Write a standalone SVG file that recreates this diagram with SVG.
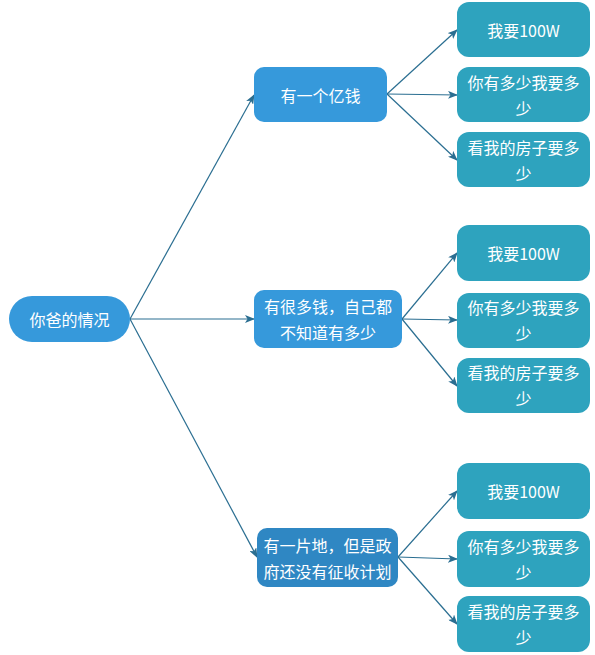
<svg xmlns="http://www.w3.org/2000/svg" width="595" height="655" viewBox="0 0 595 655">
<defs>
<marker id="arr" markerWidth="10" markerHeight="8" refX="9" refY="4" orient="auto" markerUnits="userSpaceOnUse">
<path d="M0,0 L10,4 L0,8 L2.5,4 Z" fill="#2A6E91"/>
</marker>
</defs>
<style>
.root{fill:#3699DB}
.mid{fill:#3699DB}
.midc{fill:#2F87C3}
.leaf{fill:#2EA3BE}
text{font-family:"Noto Sans CJK SC","Liberation Sans",sans-serif;font-size:16px;fill:#FFFFFF;text-anchor:middle;dominant-baseline:central}
.edge{stroke:#2A6E91;stroke-width:1.2;fill:none;marker-end:url(#arr)}
</style>
<rect width="595" height="655" fill="#FFFFFF"/>
<g id="connectors">
<line class="edge" x1="130" y1="319" x2="254" y2="95"/>
<line class="edge" x1="130" y1="319" x2="254" y2="319"/>
<line class="edge" x1="130" y1="319" x2="257" y2="557"/>
<line class="edge" x1="387" y1="94" x2="457" y2="30"/>
<line class="edge" x1="387" y1="94" x2="457" y2="95"/>
<line class="edge" x1="387" y1="94" x2="457" y2="160"/>
<line class="edge" x1="402" y1="319" x2="457" y2="253"/>
<line class="edge" x1="402" y1="319" x2="457" y2="320"/>
<line class="edge" x1="402" y1="319" x2="457" y2="386"/>
<line class="edge" x1="398" y1="557" x2="457" y2="491"/>
<line class="edge" x1="398" y1="557" x2="457" y2="559"/>
<line class="edge" x1="398" y1="557" x2="457" y2="624"/>
</g>
<g id="root">
<rect class="root" x="9" y="296" width="121" height="46" rx="23"/>
<text x="69.5" y="319">你爸的情况</text>
</g>
<g id="nodeA">
<rect class="mid" x="254" y="67" width="133" height="55" rx="10"/>
<text x="320.5" y="94.5">有一个亿钱</text>
</g>
<g id="nodeB">
<rect class="mid" x="254" y="290" width="148" height="58" rx="10"/>
<text x="328" y="306">有很多钱，自己都</text>
<text x="328" y="332">不知道有多少</text>
</g>
<g id="nodeC">
<rect class="midc" x="257" y="528" width="141" height="59" rx="10"/>
<text x="327.5" y="545">有一片地，但是政</text>
<text x="327.5" y="571">府还没有征收计划</text>
</g>
<g id="leafA1">
<rect class="leaf" x="457" y="2" width="133" height="55" rx="12"/>
<text x="523.5" y="29.5">我要100W</text>
</g>
<g id="leafA2">
<rect class="leaf" x="457" y="67" width="133" height="55" rx="12"/>
<text x="523.5" y="82">你有多少我要多</text>
<text x="523.5" y="108">少</text>
</g>
<g id="leafA3">
<rect class="leaf" x="457" y="132" width="133" height="55" rx="12"/>
<text x="523.5" y="147">看我的房子要多</text>
<text x="523.5" y="173">少</text>
</g>
<g id="leafB1">
<rect class="leaf" x="457" y="225" width="133" height="56" rx="12"/>
<text x="523.5" y="253">我要100W</text>
</g>
<g id="leafB2">
<rect class="leaf" x="457" y="293" width="133" height="55" rx="12"/>
<text x="523.5" y="307">你有多少我要多</text>
<text x="523.5" y="333">少</text>
</g>
<g id="leafB3">
<rect class="leaf" x="457" y="358" width="133" height="55" rx="12"/>
<text x="523.5" y="372">看我的房子要多</text>
<text x="523.5" y="398">少</text>
</g>
<g id="leafC1">
<rect class="leaf" x="457" y="463" width="133" height="56" rx="12"/>
<text x="523.5" y="491">我要100W</text>
</g>
<g id="leafC2">
<rect class="leaf" x="457" y="531" width="133" height="56" rx="12"/>
<text x="523.5" y="546">你有多少我要多</text>
<text x="523.5" y="572">少</text>
</g>
<g id="leafC3">
<rect class="leaf" x="457" y="596" width="133" height="56" rx="12"/>
<text x="523.5" y="611">看我的房子要多</text>
<text x="523.5" y="637">少</text>
</g>
</svg>
